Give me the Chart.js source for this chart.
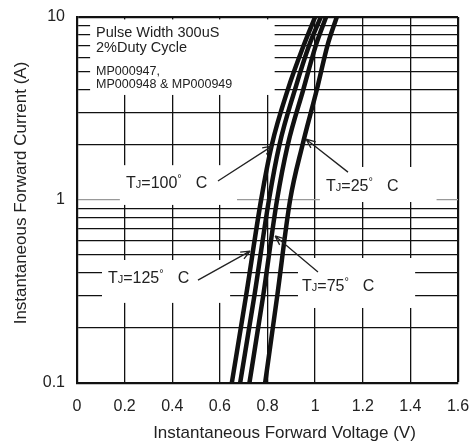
<!DOCTYPE html>
<html>
<head>
<meta charset="utf-8">
<script src="https://cdn.jsdelivr.net/npm/chart.js@4.4.1/dist/chart.umd.min.js"></script>
<style>
  html, body { margin: 0; padding: 0; background: #fff; }
  #wrap { width: 475px; height: 443px; position: relative; }
</style>
</head>
<body>
<div id="wrap"><canvas id="chart"></canvas></div>
<script>
// forward current points (A) and the voltage (V)
const CURRENT_A = [0.1, 0.3, 1, 2, 4, 7, 10];
const VF_125C = [0.650, 0.710, 0.773, 0.818, 0.885, 0.952, 1.000];
const VF_100C = [0.685, 0.745, 0.806, 0.850, 0.915, 0.975, 1.024];
const VF_75C  = [0.724, 0.782, 0.840, 0.885, 0.950, 1.003, 1.046];
const VF_25C  = [0.790, 0.841, 0.895, 0.947, 1.007, 1.052, 1.091];

const X_TICKS = [0, 0.2, 0.4, 0.6, 0.8, 1, 1.2, 1.4, 1.6];
const Y_TICKS = [0.1, 0.2, 0.3, 0.4, 0.5, 0.6, 0.7, 0.8, 0.9, 1, 2, 3, 4, 5, 6, 7, 8, 9, 10];
const Y_LABELED = [0.1, 1, 10];

const NOTE_LINES = ['Pulse Width 300uS', '2%Duty Cycle', 'MP000947,', 'MP000948 & MP000949'];
const TEMP_LABELS = ['100', '25', '125', '75'];

const FONT = '"Liberation Sans", Arial, sans-serif';

// white patches behind the texts (data coords)
const MASKS = [
  { x: [0.055, 0.83], y: [9.7, 3.75] },
  { x: [0.18, 0.672], y: [1.55, 0.94] },
  { x: [1.02, 1.51], y: [1.515, 0.975] },
  { x: [0.105, 0.643], y: [0.47, 0.274] },
  { x: [0.928, 1.42], y: [0.482, 0.257] }
];

// note text anchors: left x, baseline y
const NOTE_POS = [
  { x: 0.08, y: 7.78, size: 14.5 },
  { x: 0.08, y: 6.44, size: 14.5 },
  { x: 0.08, y: 4.82, size: 12.5 },
  { x: 0.08, y: 4.09, size: 12.5 }
];

// temperature labels + arrows
const LABEL_POS = [
  { x: 0.206, y: 1.163, from: [0.592, 1.27], to: [0.819, 1.97] },
  { x: 1.046, y: 1.12, from: [1.138, 1.42], to: [0.962, 2.15] },
  { x: 0.130, y: 0.352, from: [0.508, 0.365], to: [0.727, 0.526] },
  { x: 0.945, y: 0.318, from: [1.012, 0.404], to: [0.832, 0.636] }
];

function pts(vf) {
  return CURRENT_A.map((a, i) => ({ x: vf[i], y: a }));
}

const curve = (label, vf) => ({
  label: label,
  data: pts(vf),
  borderColor: '#111',
  borderWidth: 4.5,
  pointRadius: 0,
  cubicInterpolationMode: 'monotone',
  fill: false
});

const overlay = {
  id: 'overlay',
  beforeDatasetsDraw(chart) {
    const { ctx, scales: { x, y } } = chart;
    ctx.save();
    ctx.fillStyle = '#fff';
    MASKS.forEach(m => {
      const x0 = x.getPixelForValue(m.x[0]), x1 = x.getPixelForValue(m.x[1]);
      const y0 = y.getPixelForValue(m.y[0]), y1 = y.getPixelForValue(m.y[1]);
      ctx.fillRect(x0, y0, x1 - x0, y1 - y0);
    });
    ctx.restore();
  },
  afterDatasetsDraw(chart) {
    const { ctx, scales: { x, y } } = chart;
    ctx.save();
    ctx.fillStyle = '#222';
    ctx.textBaseline = 'alphabetic';
    ctx.textAlign = 'left';

    NOTE_LINES.forEach((t, i) => {
      const p = NOTE_POS[i];
      ctx.font = p.size + 'px ' + FONT;
      ctx.fillText(t, x.getPixelForValue(p.x), y.getPixelForValue(p.y));
    });

    TEMP_LABELS.forEach((t, i) => {
      const p = LABEL_POS[i];
      let px = x.getPixelForValue(p.x);
      const py = y.getPixelForValue(p.y);
      const parts = [
        { s: 'T', f: 16, dy: 0 },
        { s: 'J', f: 11, dy: 0 },
        { s: '=' + t, f: 16, dy: 0 },
        { s: '\u00b0', f: 11, dy: -6 },
        { s: 'C', f: 16, dy: 0, gap: 14 }
      ];
      parts.forEach(pt => {
        px += pt.gap || 0;
        ctx.font = pt.f + 'px ' + FONT;
        ctx.fillText(pt.s, px, py + pt.dy);
        px += ctx.measureText(pt.s).width;
      });

      // arrow
      const ax = x.getPixelForValue(p.from[0]), ay = y.getPixelForValue(p.from[1]);
      const bx = x.getPixelForValue(p.to[0]), by = y.getPixelForValue(p.to[1]);
      const ang = Math.atan2(by - ay, bx - ax);
      ctx.strokeStyle = '#222';
      ctx.lineWidth = 1.3;
      ctx.beginPath();
      ctx.moveTo(ax, ay);
      ctx.lineTo(bx, by);
      [0.4, -0.4].forEach(d => {
        ctx.moveTo(bx, by);
        ctx.lineTo(bx - 10 * Math.cos(ang + d), by - 10 * Math.sin(ang + d));
      });
      ctx.stroke();
    });
    ctx.restore();
  },
  afterDraw(chart) {
    const { ctx, chartArea } = chart;
    ctx.save();
    ctx.fillStyle = '#222';
    ctx.font = '17px ' + FONT;
    ctx.textAlign = 'center';
    ctx.textBaseline = 'middle';
    ctx.fillText('Instantaneous Forward Voltage (V)', (chartArea.left + chartArea.right) / 2 + 17, 433);
    ctx.translate(21, (chartArea.top + chartArea.bottom) / 2 - 7);
    ctx.rotate(-Math.PI / 2);
    ctx.fillText('Instantaneous Forward Current (A)', 0, 0);
    ctx.restore();
  }
};

new Chart(document.getElementById('chart'), {
  type: 'line',
  data: {
    datasets: [
      curve('TJ=125° C', VF_125C),
      curve('TJ=100° C', VF_100C),
      curve('TJ=75° C', VF_75C),
      curve('TJ=25° C', VF_25C)
    ]
  },
  options: {
    responsive: true,
    maintainAspectRatio: false,
    animation: false,
    layout: { padding: { top: 17, right: 17, left: 0, bottom: 0 } },
    plugins: { legend: { display: false }, tooltip: { enabled: false } },
    scales: {
      x: {
        type: 'linear',
        min: 0,
        max: 1.6,
        afterBuildTicks: s => { s.ticks = X_TICKS.map(v => ({ value: v })); },
        afterFit: s => {
          s.height = 60;
          s.paddingLeft = 0;
          s.paddingRight = 0;
        },
        ticks: {
          color: '#222',
          padding: 14,
          font: { family: FONT, size: 16 },
          callback: v => String(Math.round(v * 10) / 10)
        },
        grid: {
          color: '#111',
          lineWidth: c => (c.index === X_TICKS.length - 1 ? 2.2 : 1.3),
          drawTicks: false
        },
        border: { color: '#111', width: 2.2 }
      },
      y: {
        type: 'logarithmic',
        min: 0.1,
        max: 10,
        afterBuildTicks: s => { s.ticks = Y_TICKS.map(v => ({ value: v })); },
        afterFit: s => {
          s.width = 77;
          s.paddingTop = 0;
          s.paddingBottom = 0;
        },
        ticks: {
          color: '#222',
          padding: 12,
          autoSkip: false,
          font: { family: FONT, size: 16 },
          callback: v => (Y_LABELED.includes(v) ? String(v) : '')
        },
        grid: {
          color: c => (c.tick && c.tick.value === 1 ? '#999' : '#111'),
          lineWidth: c => (c.tick && c.tick.value === 10 ? 2.2 : 1.3),
          drawTicks: false
        },
        border: { color: '#111', width: 2.2 }
      }
    }
  },
  plugins: [overlay]
});
</script>
</body>
</html>
